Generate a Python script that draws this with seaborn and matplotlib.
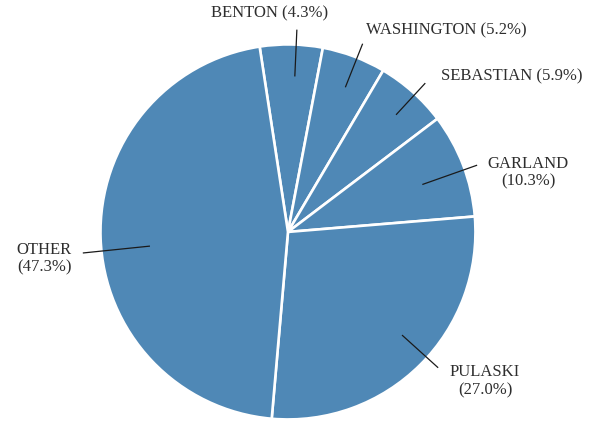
import numpy as np
import matplotlib
matplotlib.use("Agg")
import matplotlib.pyplot as plt
import seaborn as sns

# counties, clockwise from the top
counties = ["BENTON", "WASHINGTON", "SEBASTIAN", "GARLAND", "PULASKI", "OTHER"]
pct_text = ["4.3%", "5.2%", "5.9%", "10.3%", "27.0%", "47.3%"]
# slice sizes as drawn in the picture (percent of the circle)
slice_share = [5.4, 5.5, 6.2, 9.0, 27.7, 46.2]

sns.set_style("white")
plt.rcParams["font.family"] = ["Liberation Serif", "DejaVu Serif"]

fig = plt.figure(figsize=(5.9, 4.23), dpi=100)
ax = fig.add_axes([0, 0, 1, 1])

start = 98.7
wedges, _ = ax.pie(slice_share, startangle=start, counterclock=False,
                   colors=["#4f88b6"] * len(counties), radius=1.0,
                   wedgeprops=dict(edgecolor="white", linewidth=1.9))

# label layout: text position, alignment, two-line or not, leader line tweaks
label_pos = [(-0.096, 1.163), (0.416, 1.077), (0.816, 0.827),
             (1.28, 0.315), (1.051, -0.795), (-1.301, -0.144)]
label_ha = ["center", "left", "left", "center", "center", "center"]
two_line = [False, False, False, True, True, True]
nudge = [-1.5, -1.0, -1.0, -1.5, 3.0, 4.0]
line_in = [0.83, 0.83, 0.85, 0.76, 0.82, 0.74]
line_out = [1.08, 1.08, 1.08, 1.07, 1.08, 1.10]

for i, w in enumerate(wedges):
    mid = np.deg2rad((w.theta1 + w.theta2) / 2 + nudge[i])
    r0, r1 = line_in[i], line_out[i]
    ax.plot([r0 * np.cos(mid), r1 * np.cos(mid)],
            [r0 * np.sin(mid), r1 * np.sin(mid)],
            color="#1a1a1a", lw=0.9, solid_capstyle="butt")
    if two_line[i]:
        txt = f"{counties[i]}\n({pct_text[i]})"
    else:
        txt = f"{counties[i]} ({pct_text[i]})"
    ax.text(label_pos[i][0], label_pos[i][1], txt, ha=label_ha[i], va="center",
            fontsize=12, color="#2e2e2e", linespacing=1.15)

ax.set_xlim(-1.536, 1.611)
ax.set_ylim(-1.019, 1.237)
ax.set_aspect("auto")
ax.axis("off")

fig.savefig("out.png", dpi=100)
